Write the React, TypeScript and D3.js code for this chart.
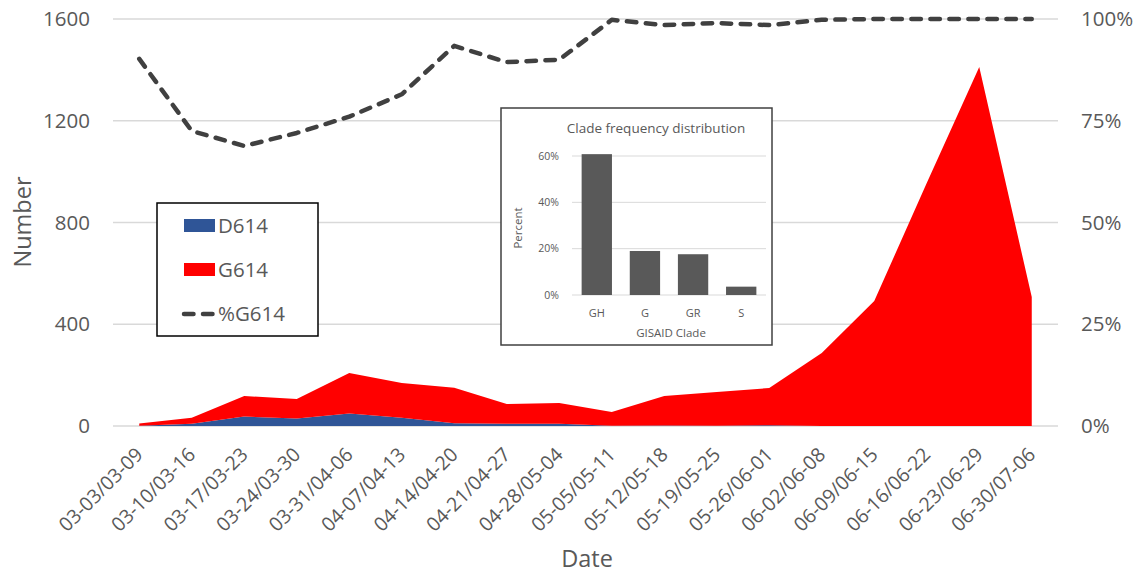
import { useMemo } from "react";
import * as d3 from "d3";

// weekly sample windows
const weeks = [
  "03-03/03-09", "03-10/03-16", "03-17/03-23", "03-24/03-30", "03-31/04-06",
  "04-07/04-13", "04-14/04-20", "04-21/04-27", "04-28/05-04", "05-05/05-11",
  "05-12/05-18", "05-19/05-25", "05-26/06-01", "06-02/06-08", "06-09/06-15",
  "06-16/06-22", "06-23/06-29", "06-30/07-06",
];
const d614 = [1, 9, 37, 29, 49, 32, 11, 9, 9, 1, 2, 1, 3, 0, 0, 0, 0, 0];
const g614 = [9, 23, 81, 77, 159, 137, 139, 77, 81, 54, 116, 133, 146, 287, 491, 955, 1411, 507];
const pctG614 = [0.902, 0.725, 0.688, 0.72, 0.76, 0.815, 0.934, 0.894, 0.9, 0.998, 0.985, 0.99, 0.985, 0.998, 1, 1, 1, 1];

const leftTicks = [0, 400, 800, 1200, 1600];
const rightTicks = [0, 0.25, 0.5, 0.75, 1];

// inset: clade frequency
const clades = ["GH", "G", "GR", "S"];
const cladePct = [0.608, 0.19, 0.176, 0.036];
const cladeTicks = [0, 0.2, 0.4, 0.6];

const FONT = "'Open Sans', sans-serif";
const TXT = "#595959";
const GRID = "#d9d9d9";

export default function App() {
  const W = 1144, H = 573;
  const x = d3.scaleBand<string>().domain(weeks).range([113, 1058]);
  const cx = (w: string) => x(w)! + x.bandwidth() / 2;
  const yL = d3.scaleLinear().domain([0, 1600]).range([426, 19]);
  const yR = d3.scaleLinear().domain([0, 1]).range([426, 19]);

  const rows = weeks.map((w, i) => ({ week: w, D614: d614[i], G614: g614[i] }));
  const stacked = useMemo(() => d3.stack<any>().keys(["D614", "G614"])(rows), []);
  const area = d3.area<any>()
    .x((d) => cx(d.data.week))
    .y0((d) => yL(d[0]))
    .y1((d) => yL(d[1]));
  const line = d3.line<number>()
    .x((_, i) => cx(weeks[i]))
    .y((v) => yR(v));
  const colors = ["#2f5597", "#ff0000"];

  // inset geometry
  const ib = { x: 501, y: 108, w: 271, h: 237 };
  const ix = d3.scaleBand<string>().domain(clades).range([572, 766]).paddingInner(0.37).paddingOuter(0.2);
  const iy = d3.scaleLinear().domain([0, 0.6]).range([295, 156]);

  return (
    <svg width={W} height={H} style={{ position: "absolute", left: 0, top: 0, background: "#fff" }} fontFamily={FONT}>
      {/* gridlines */}
      {leftTicks.map((t) => (
        <line key={t} x1={113} x2={1058} y1={yL(t)} y2={yL(t)} stroke={GRID} strokeWidth={1.3} />
      ))}
      {/* stacked areas */}
      {stacked.map((s, i) => (
        <path key={s.key} d={area(s as any) || ""} fill={colors[i]} />
      ))}
      {/* %G614 */}
      <path d={line(pctG614) || ""} fill="none" stroke="#404040" strokeWidth={4.5}
        strokeDasharray="9.5 9.5" strokeLinecap="round" strokeLinejoin="round" />

      {/* left axis */}
      {leftTicks.map((t) => (
        <text key={t} x={90} y={yL(t)} dy="0.35em" textAnchor="end" fontSize={20.5} fill={TXT}>{t}</text>
      ))}
      {rightTicks.map((t) => (
        <text key={t} x={1081} y={yR(t)} dy="0.35em" textAnchor="start" fontSize={20.5} fill={TXT}>{d3.format(".0%")(t)}</text>
      ))}
      <text transform="translate(31,222) rotate(-90)" textAnchor="middle" fontSize={23.5} fill={TXT}>Number</text>

      {/* x ticks */}
      {weeks.map((w) => (
        <text key={w} transform={`translate(${cx(w)},451) rotate(-45)`} dy="0.35em" textAnchor="end"
          fontSize={19.5} fill={TXT}>{w}</text>
      ))}
      <text x={587} y={567} textAnchor="middle" fontSize={23.5} fill={TXT}>Date</text>

      {/* legend */}
      <rect x={157} y={203} width={161} height={133} fill="#fff" stroke="#000" strokeWidth={1.5} />
      <rect x={184} y={219} width={31} height={13} fill={colors[0]} />
      <text x={218} y={233} fontSize={20.5} fill={TXT}>D614</text>
      <rect x={184} y={263} width={31} height={13} fill={colors[1]} />
      <text x={218} y={277} fontSize={20.5} fill={TXT}>G614</text>
      <line x1={184} x2={214} y1={314} y2={314} stroke="#404040" strokeWidth={4.5}
        strokeDasharray="9.5 9.5" strokeLinecap="round" />
      <text x={218} y={321} fontSize={20.5} fill={TXT}>%G614</text>

      {/* inset chart */}
      <rect x={ib.x} y={ib.y} width={ib.w} height={ib.h} fill="#fff" stroke="#404040" strokeWidth={1.5} />
      <text x={656} y={133} textAnchor="middle" fontSize={13.5} fill={TXT}>Clade frequency distribution</text>
      {cladeTicks.map((t) => (
        <g key={t}>
          <line x1={572} x2={766} y1={iy(t)} y2={iy(t)} stroke={GRID} strokeWidth={1} />
          <text x={559} y={iy(t)} dy="0.35em" textAnchor="end" fontSize={10.5} fill={TXT}>{d3.format(".0%")(t)}</text>
        </g>
      ))}
      {clades.map((c, i) => (
        <g key={c}>
          <rect x={ix(c)} y={iy(cladePct[i])} width={ix.bandwidth()} height={iy(0) - iy(cladePct[i])} fill="#595959" />
          <text x={ix(c)! + ix.bandwidth() / 2} y={313} dy="0.35em" textAnchor="middle" fontSize={11} fill={TXT}>{c}</text>
        </g>
      ))}
      <text x={671} y={333} dy="0.35em" textAnchor="middle" fontSize={11.5} fill={TXT}>GISAID Clade</text>
      <text transform="translate(518,228) rotate(-90)" dy="0.35em" textAnchor="middle" fontSize={11.5} fill={TXT}>Percent</text>
    </svg>
  );
}
